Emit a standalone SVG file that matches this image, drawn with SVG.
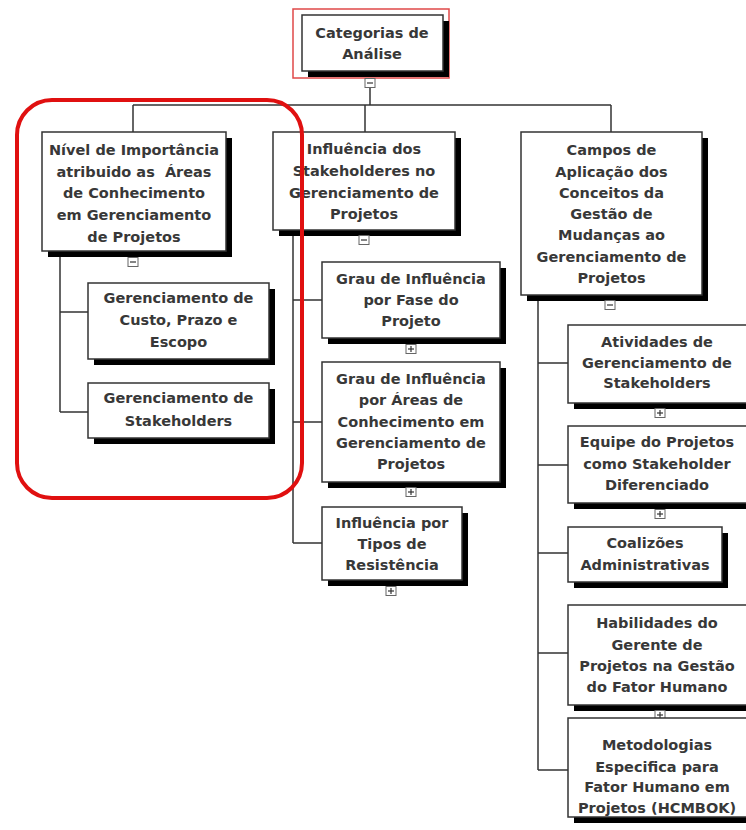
<svg xmlns="http://www.w3.org/2000/svg" width="746" height="830" viewBox="0 0 746 830">
<style>
.bg{fill:#fff}
.shd{fill:#000}
.box{fill:#fff;stroke:#333;stroke-width:1.5}
.ln{stroke:#333;stroke-width:1.5;fill:none}
.t{font-family:"DejaVu Sans",Verdana,sans-serif;font-weight:bold;font-size:14.5px;fill:#383838;text-anchor:middle}
.pre{white-space:pre}
.tg{fill:#fff;stroke:#666;stroke-width:1}
.tgl{stroke:#333;stroke-width:1.2}
</style>
<defs>
<g id="minus"><rect class="tg" x="-5" y="-4.5" width="10" height="9"/><line class="tgl" x1="-3" y1="0" x2="3" y2="0"/></g>
<g id="plus"><rect class="tg" x="-5" y="-4.5" width="10" height="9"/><line class="tgl" x1="-3" y1="0" x2="3" y2="0"/><line class="tgl" x1="0" y1="-3" x2="0" y2="3"/></g>
</defs>
<rect class="bg" x="0" y="0" width="746" height="830"/>

<g id="connectors">
<line class="ln" x1="370" y1="87" x2="370" y2="105"/>
<line class="ln" x1="133" y1="105" x2="611" y2="105"/>
<line class="ln" x1="133" y1="105" x2="133" y2="132"/>
<line class="ln" x1="365" y1="105" x2="365" y2="132"/>
<line class="ln" x1="611" y1="105" x2="611" y2="132"/>
<path class="ln" d="M60 252 V412 M60 312 H88 M60 412 H88"/>
<path class="ln" d="M293 230 V543 M293 300 H322 M293 422 H322 M293 543 H322"/>
<path class="ln" d="M538 295 V770 M538 363 H568 M538 465 H568 M538 553 H568 M538 653 H568 M538 770 H568"/>
</g>

<g id="root">
<rect x="293" y="9" width="156" height="69" fill="none" stroke="#e04848" stroke-width="1.5"/>
<rect class="shd" x="308" y="21" width="141" height="56"/>
<rect class="box" x="302" y="15" width="141" height="56"/>
<text class="t" x="372" y="38">Categorias de</text>
<text class="t" x="372" y="59">Análise</text>
<use href="#minus" x="370" y="83"/>
</g>

<g id="nA">
<rect class="shd" x="48" y="138" width="184" height="119"/>
<rect class="box" x="42" y="132" width="184" height="119"/>
<text class="t" x="134" y="155">Nível de Importância</text>
<text class="t pre" x="134" y="177" xml:space="preserve">atribuido as  Áreas</text>
<text class="t" x="134" y="198">de Conhecimento</text>
<text class="t" x="134" y="220">em Gerenciamento</text>
<text class="t" x="134" y="242">de Projetos</text>
<use href="#minus" x="133" y="262"/>
</g>

<g id="nA1">
<rect class="shd" x="94" y="289" width="181" height="76"/>
<rect class="box" x="88" y="283" width="181" height="76"/>
<text class="t" x="178.5" y="303">Gerenciamento de</text>
<text class="t" x="178.5" y="325">Custo, Prazo e</text>
<text class="t" x="178.5" y="347">Escopo</text>
</g>

<g id="nA2">
<rect class="shd" x="94" y="389" width="181" height="55"/>
<rect class="box" x="88" y="383" width="181" height="55"/>
<text class="t" x="178.5" y="403">Gerenciamento de</text>
<text class="t" x="178.5" y="426">Stakeholders</text>
</g>

<g id="nB">
<rect class="shd" x="279" y="138" width="182" height="98"/>
<rect class="box" x="273" y="132" width="182" height="98"/>
<text class="t" x="364" y="154">Influência dos</text>
<text class="t" x="364" y="176">Stakeholderes no</text>
<text class="t" x="364" y="198">Gerenciamento de</text>
<text class="t" x="364" y="219">Projetos</text>
<use href="#minus" x="364" y="240"/>
</g>

<g id="nB1">
<rect class="shd" x="328" y="268" width="178" height="76"/>
<rect class="box" x="322" y="262" width="178" height="76"/>
<text class="t" x="411" y="284">Grau de Influência</text>
<text class="t" x="411" y="305">por Fase do</text>
<text class="t" x="411" y="326">Projeto</text>
<use href="#plus" x="411" y="349"/>
</g>

<g id="nB2">
<rect class="shd" x="328" y="368" width="178" height="120"/>
<rect class="box" x="322" y="362" width="178" height="120"/>
<text class="t" x="411" y="384">Grau de Influência</text>
<text class="t" x="411" y="405">por Áreas de</text>
<text class="t" x="411" y="427">Conhecimento em</text>
<text class="t" x="411" y="448">Gerenciamento de</text>
<text class="t" x="411" y="469">Projetos</text>
<use href="#plus" x="411" y="492"/>
</g>

<g id="nB3">
<rect class="shd" x="328" y="513" width="140" height="73"/>
<rect class="box" x="322" y="507" width="140" height="73"/>
<text class="t" x="392" y="528">Influência por</text>
<text class="t" x="392" y="549">Tipos de</text>
<text class="t" x="392" y="570">Resistência</text>
<use href="#plus" x="391" y="591"/>
</g>

<g id="nC">
<rect class="shd" x="527" y="138" width="181" height="163"/>
<rect class="box" x="521" y="132" width="181" height="163"/>
<text class="t" x="611.5" y="155">Campos de</text>
<text class="t" x="611.5" y="177">Aplicação dos</text>
<text class="t" x="611.5" y="198">Conceitos da</text>
<text class="t" x="611.5" y="219">Gestão de</text>
<text class="t" x="611.5" y="240">Mudanças ao</text>
<text class="t" x="611.5" y="262">Gerenciamento de</text>
<text class="t" x="611.5" y="283">Projetos</text>
<use href="#minus" x="610" y="305"/>
</g>

<g id="nC1">
<rect class="shd" x="574" y="331" width="181" height="78"/>
<rect class="box" x="568" y="325" width="181" height="78"/>
<text class="t" x="657" y="347">Atividades de</text>
<text class="t" x="657" y="368">Gerenciamento de</text>
<text class="t" x="657" y="388">Stakeholders</text>
<use href="#plus" x="660" y="413"/>
</g>

<g id="nC2">
<rect class="shd" x="574" y="432" width="181" height="77"/>
<rect class="box" x="568" y="426" width="181" height="77"/>
<text class="t" x="657" y="447">Equipe do Projetos</text>
<text class="t" x="657" y="469">como Stakeholder</text>
<text class="t" x="657" y="490">Diferenciado</text>
<use href="#plus" x="660" y="514"/>
</g>

<g id="nC3">
<rect class="shd" x="574" y="533" width="154" height="55"/>
<rect class="box" x="568" y="527" width="154" height="55"/>
<text class="t" x="645" y="548">Coalizões</text>
<text class="t" x="645" y="570">Administrativas</text>
</g>

<g id="nC4">
<rect class="shd" x="574" y="611" width="181" height="100"/>
<rect class="box" x="568" y="605" width="181" height="100"/>
<text class="t" x="657" y="628">Habilidades do</text>
<text class="t" x="657" y="650">Gerente de</text>
<text class="t" x="657" y="671">Projetos na Gestão</text>
<text class="t" x="657" y="692">do Fator Humano</text>
<use href="#plus" x="660" y="715"/>
</g>

<g id="nC5">
<rect class="shd" x="574" y="724" width="181" height="99"/>
<rect class="box" x="568" y="718" width="181" height="99"/>
<text class="t" x="657" y="750">Metodologias</text>
<text class="t" x="657" y="772">Especifica para</text>
<text class="t" x="657" y="792">Fator Humano em</text>
<text class="t" x="657" y="813">Projetos (HCMBOK)</text>
</g>

<g id="highlight">
<rect x="17" y="100" width="285" height="398" rx="35" fill="none" stroke="#e01010" stroke-width="4"/>
</g>
</svg>
